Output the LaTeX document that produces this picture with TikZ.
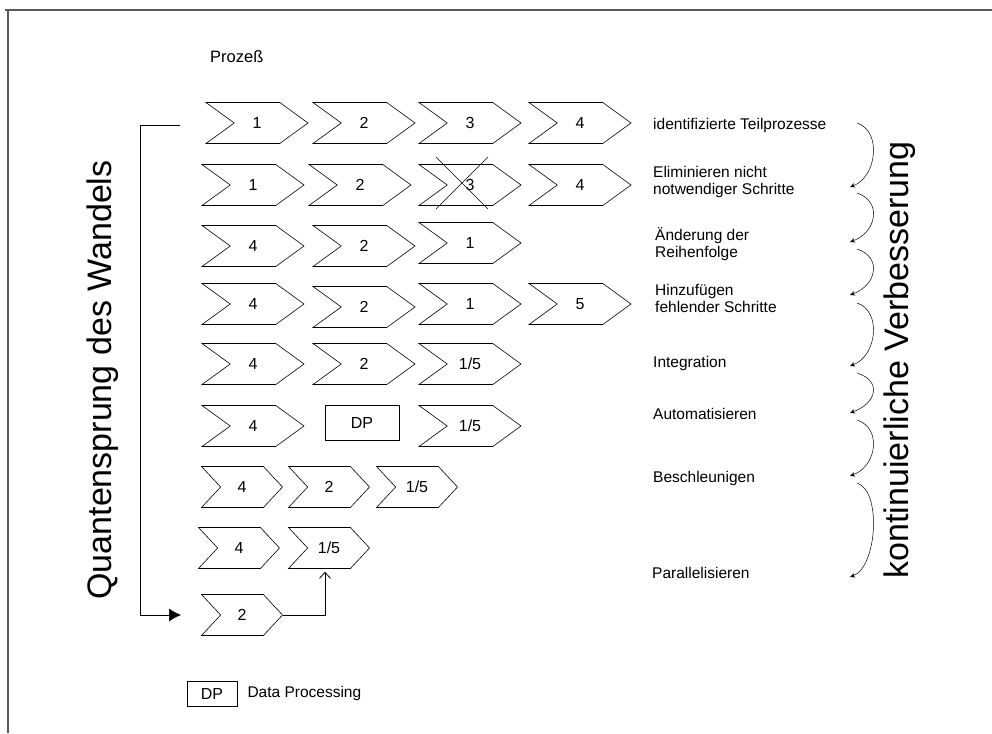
\documentclass[tikz,border=0pt]{standalone}
\usepackage{fontspec}
\setmainfont{Liberation Sans}
\usetikzlibrary{shapes,arrows,arrows.meta,positioning}

\begin{document}
\begin{tikzpicture}[
    x=1pt, y=-1pt,
    chevron/.style={signal, signal from=west, signal to=east, signal pointer angle=72, draw, line width=0.6pt, minimum width=102pt, minimum height=41pt, inner sep=0pt, font=\fontsize{16}{18}\selectfont},
    smallchev/.style={chevron, minimum width=81pt, signal pointer angle=94},
    dpbox/.style={rectangle, draw, line width=0.6pt, inner sep=0pt, font=\fontsize{16}{18}\selectfont},
    rowtext/.style={anchor=west, align=left, inner sep=0pt, font=\fontsize{15.5}{17}\selectfont},
    bigtext/.style={rotate=90, inner sep=0pt, font=\fontsize{34}{36}\selectfont},
    curve/.style={-{Stealth[length=5pt,width=4.5pt]}, line width=0.5pt},
    frame/.style={draw=black!65, line width=1.3pt}
]
    \useasboundingbox (0,0) rectangle (992,733);
    \draw[frame] (5,10) -- (992,10);
    \draw[frame] (8,10) -- (8,733);

    \node[anchor=west, inner sep=0pt, font=\fontsize{16.5}{18}\selectfont] (title) at (210,57) {Prozeß};

    % Teilprozesse
    \node[chevron] (r1a) at (257,123) {1};
    \node[chevron] (r1b) at (364,123) {2};
    \node[chevron] (r1c) at (470,123) {3};
    \node[chevron] (r1d) at (580,123) {4};

    \node[chevron] (r2a) at (253,185) {1};
    \node[chevron] (r2b) at (360,185) {2};
    \node[chevron] (r2c) at (470,185) {3};
    \node[chevron] (r2d) at (580,185) {4};
    \draw[line width=0.6pt] (r2c.center) ++(-34,-28) -- ++(52,52);
    \draw[line width=0.6pt] (r2c.center) ++(18,-28) -- ++(-52,52);

    \node[chevron] (r3a) at (253,246) {4};
    \node[chevron] (r3b) at (364,246) {2};
    \node[chevron] (r3c) at (470,243) {1};

    \node[chevron] (r4a) at (253,304) {4};
    \node[chevron] (r4b) at (364,307) {2};
    \node[chevron] (r4c) at (470,304) {1};
    \node[chevron] (r4d) at (580,304) {5};

    \node[chevron] (r5a) at (253,364) {4};
    \node[chevron] (r5b) at (364,364) {2};
    \node[chevron] (r5c) at (470,364) {1/5};

    \node[chevron] (r6a) at (253,426) {4};
    \node[dpbox, minimum width=74pt, minimum height=35pt] (r6b) at (362,423) {DP};
    \node[chevron] (r6c) at (470,426) {1/5};

    \node[smallchev] (r7a) at (242,487) {4};
    \node[smallchev] (r7b) at (329,487) {2};
    \node[smallchev] (r7c) at (417,487) {1/5};

    \node[smallchev] (r8a) at (239,548) {4};
    \node[smallchev] (r8b) at (329,548) {1/5};

    \node[smallchev] (r9a) at (242,615) {2};
    \draw[-{Straight Barb[length=6pt,width=11pt]}, line width=0.8pt] (r9a.east) -| ([xshift=-4pt,yshift=-3pt]r8b.south);

    % Quantensprung
    \coordinate (qtop) at (180,125);
    \coordinate (qend) at (181,615);
    \draw[-{Latex[length=12pt,width=13pt]}, line width=0.6pt] (qtop) -- ++(-40,0) |- (qend);
    \node[bigtext] (quant) at (103,380) {Quantensprung des Wandels};

    % Schritte
    \node[rowtext] (t1) at (653,125) {identifizierte Teilprozesse};
    \node[rowtext] (t2) at (653,181.5) {Eliminieren nicht\\notwendiger Schritte};
    \node[rowtext] (t3) at (655,244.5) {Änderung der\\Reihenfolge};
    \node[rowtext] (t4) at (655,298) {Hinzufügen\\fehlender Schritte};
    \node[rowtext] (t5) at (653,363) {Integration};
    \node[rowtext] (t6) at (653,414) {Automatisieren};
    \node[rowtext] (t7) at (653,478) {Beschleunigen};
    \node[rowtext] (t8) at (652,573) {Parallelisieren};

    % kontinuierliche Verbesserung
    \foreach \i/\ys/\ye in {1/123/187, 2/193/242, 3/249/295, 4/303/366, 5/373/413, 6/420/476, 7/483/577} {
        \coordinate (s\i) at (857,\ys);
        \coordinate (e\i) at (850,\ye);
        \draw[curve] (s\i) .. controls +(25,8) and +(27,-10) .. (e\i);
    }
    \node[bigtext] (kvp) at (900,360) {kontinuierliche Verbesserung};

    % Legende
    \node[dpbox, minimum width=50pt, minimum height=25pt] (dpkey) at (212,693.5) {DP};
    \node[rowtext, right=10pt of dpkey] (dpname) {Data Processing};
\end{tikzpicture}
\end{document}
